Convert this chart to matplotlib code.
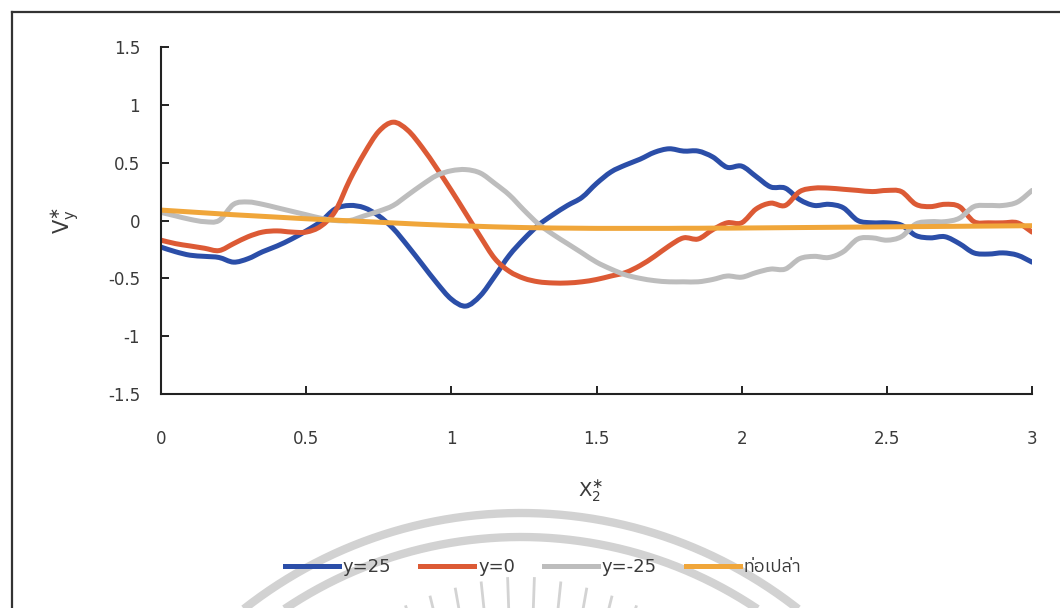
import numpy as np
import matplotlib
matplotlib.use("Agg")
import matplotlib.pyplot as plt
from matplotlib import font_manager
from matplotlib.ft2font import FT2Font
from matplotlib.lines import Line2D
from matplotlib.patches import PathPatch
from matplotlib.path import Path
from matplotlib.ticker import MultipleLocator, FuncFormatter

plt.rcParams["axes.unicode_minus"] = False

# ---- data -------------------------------------------------------------
x_pos = [round(0.05 * i, 2) for i in range(61)]

vy_y25 = [-0.23, -0.27, -0.30, -0.31, -0.32, -0.36, -0.33, -0.27, -0.22, -0.16,
          -0.09, -0.01, 0.10, 0.13, 0.11, 0.04, -0.07, -0.22, -0.38, -0.54,
          -0.68, -0.74, -0.65, -0.48, -0.30, -0.16, -0.04, 0.05, 0.13, 0.20,
          0.32, 0.42, 0.48, 0.53, 0.59, 0.62, 0.60, 0.60, 0.55, 0.46,
          0.47, 0.38, 0.29, 0.28, 0.18, 0.13, 0.14, 0.11, 0.00, -0.02,
          -0.02, -0.04, -0.13, -0.15, -0.14, -0.20, -0.28, -0.29, -0.28, -0.30,
          -0.36]

vy_y0 = [-0.17, -0.20, -0.22, -0.24, -0.26, -0.20, -0.14, -0.10, -0.09, -0.10,
         -0.10, -0.05, 0.08, 0.35, 0.58, 0.77, 0.85, 0.78, 0.63, 0.45,
         0.26, 0.06, -0.14, -0.33, -0.44, -0.50, -0.53, -0.54, -0.54, -0.53,
         -0.51, -0.48, -0.45, -0.39, -0.31, -0.22, -0.15, -0.16, -0.08, -0.02,
         -0.02, 0.10, 0.15, 0.13, 0.25, 0.28, 0.28, 0.27, 0.26, 0.25,
         0.26, 0.25, 0.14, 0.12, 0.14, 0.12, -0.01, -0.02, -0.02, -0.02,
         -0.10]

vy_ym25 = [0.07, 0.04, 0.01, -0.01, 0.00, 0.14, 0.16, 0.14, 0.11, 0.08,
           0.05, 0.02, 0.00, 0.00, 0.04, 0.08, 0.13, 0.22, 0.31, 0.39,
           0.43, 0.44, 0.41, 0.32, 0.22, 0.09, -0.03, -0.12, -0.20, -0.28,
           -0.36, -0.42, -0.47, -0.50, -0.52, -0.53, -0.53, -0.53, -0.51, -0.48,
           -0.49, -0.45, -0.42, -0.42, -0.33, -0.31, -0.32, -0.27, -0.16, -0.15,
           -0.17, -0.14, -0.03, -0.01, -0.01, 0.02, 0.12, 0.13, 0.13, 0.16,
           0.26]

vy_empty = [0.090, 0.082, 0.074, 0.066, 0.058, 0.050, 0.043, 0.036, 0.029, 0.022,
            0.015, 0.009, 0.003, -0.003, -0.009, -0.015, -0.021, -0.027, -0.033, -0.038,
            -0.043, -0.047, -0.051, -0.055, -0.058, -0.061, -0.063, -0.065, -0.066, -0.067,
            -0.068, -0.068, -0.068, -0.068, -0.068, -0.068, -0.067, -0.067, -0.066, -0.066,
            -0.065, -0.064, -0.063, -0.062, -0.061, -0.060, -0.059, -0.058, -0.057, -0.056,
            -0.055, -0.054, -0.053, -0.052, -0.051, -0.050, -0.049, -0.048, -0.047, -0.046,
            -0.045]

series_labels = ["y=25", "y=0", "y=-25", "ท่อเปล่า"]
series_colors = ["#2b4ea8", "#dc5a35", "#bdbdbd", "#f0a63a"]
series_values = [vy_y25, vy_y0, vy_ym25, vy_empty]


def thai_font():
    """Return the name of an installed font that has Thai glyphs, if any."""
    found = []
    for fe in font_manager.fontManager.ttflist:
        try:
            if 0x0E17 in FT2Font(fe.fname).get_charmap():
                found.append(fe.name)
        except Exception:
            pass
    for name in found:
        if "Thai" in name:
            return name
    return found[0] if found else None


def smooth_path(xs, ys):
    """Smoothed polyline through the points (cubic Bezier, Catmull-Rom tangents)."""
    p = np.column_stack([xs, ys]).astype(float)
    n = len(p)
    verts = [p[0]]
    codes = [Path.MOVETO]
    for i in range(n - 1):
        p0 = p[i - 1] if i > 0 else p[i]
        p1, p2 = p[i], p[i + 1]
        p3 = p[i + 2] if i + 2 < n else p[i + 1]
        c1 = p1 + (p2 - p0) / 6.0
        c2 = p2 - (p3 - p1) / 6.0
        verts += [c1, c2, p2]
        codes += [Path.CURVE4] * 3
    return Path(np.array(verts), codes)


th = thai_font()
legend_family = ["DejaVu Sans"] + ([th] if th else [])

W, H = 1060, 608
fig = plt.figure(figsize=(W / 100, H / 100), dpi=100)
fig.patch.set_facecolor("white")

# ---- background layer in pixel units: frame and faint emblem ----------
bg = fig.add_axes([0, 0, 1, 1], zorder=0)
bg.set_xlim(0, W)
bg.set_ylim(H, 0)
bg.axis("off")
bg.plot([12, 12], [12, H], color="#333333", lw=1.6)
bg.plot([12, W], [12, 12], color="#333333", lw=1.6)

cx, cy = 521, 961
t = np.linspace(np.radians(-45), np.radians(45), 400)
for R in (448, 424):
    bg.plot(cx + R * np.sin(t), cy - R * np.cos(t), color="#d2d2d2", lw=6.0,
            solid_capstyle="butt")
for a in np.radians(np.arange(-22, 23, 4.0)):
    r_in, r_out = 330, 384 - 14 * abs(a) / np.radians(22)
    bg.plot([cx + r_in * np.sin(a), cx + r_out * np.sin(a)],
            [cy - r_in * np.cos(a), cy - r_out * np.cos(a)],
            color="#d3d3d3", lw=2.0)

# ---- chart --------------------------------------------------------------
ax = fig.add_axes([161 / W, 1 - 394 / H, (1032 - 161) / W, (394 - 47) / H], zorder=2)
ax.patch.set_alpha(0)

handles = []
for vals, col, lab in zip(series_values, series_colors, series_labels):
    patch = PathPatch(smooth_path(x_pos, vals), facecolor="none", edgecolor=col,
                      lw=3.6, joinstyle="round", capstyle="round")
    ax.add_patch(patch)
    handles.append(Line2D([], [], color=col, lw=3.6, label=lab))

ax.set_xlim(0, 3)
ax.set_ylim(-1.5, 1.5)
ax.xaxis.set_major_locator(MultipleLocator(0.5))
ax.yaxis.set_major_locator(MultipleLocator(0.5))
fmt = FuncFormatter(lambda v, p: f"{v:g}")
ax.xaxis.set_major_formatter(fmt)
ax.yaxis.set_major_formatter(fmt)

for s in ("top", "right"):
    ax.spines[s].set_visible(False)
for s in ("left", "bottom"):
    ax.spines[s].set_color("#222222")
    ax.spines[s].set_linewidth(1.5)

text_col = "#3a3a3a"
ax.tick_params(axis="both", direction="in", length=6, width=1.4, color="#222222",
               labelsize=12, labelcolor=text_col)
ax.tick_params(axis="y", pad=15)
ax.tick_params(axis="x", pad=26)

ax.set_ylabel(r"$\mathregular{V_y^{\ast}}$", fontsize=15, color=text_col)
ax.yaxis.set_label_coords(-0.092, 0.50)
ax.set_xlabel(r"$\mathregular{X_2^{\ast}}$", fontsize=14, color=text_col)
ax.xaxis.set_label_coords(0.493, -0.245)

fig.legend(handles, series_labels, loc="center", bbox_to_anchor=(543 / W, 1 - 567 / H),
           ncol=4, frameon=False, handlelength=3.0, handletextpad=0.2,
           columnspacing=1.6, prop={"family": legend_family, "size": 13},
           labelcolor=text_col)

fig.savefig("out.png", dpi=100, facecolor="white")
